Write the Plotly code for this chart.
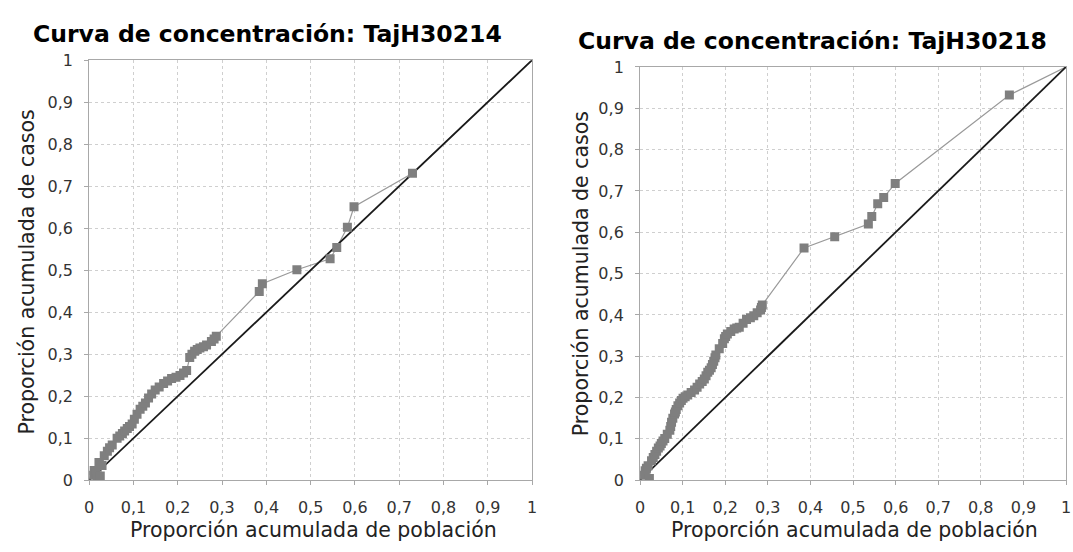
import plotly.graph_objects as go

# ---- data ----
tick_vals = [0, 0.1, 0.2, 0.3, 0.4, 0.5, 0.6, 0.7, 0.8, 0.9, 1]
tick_text = ["0", "0,1", "0,2", "0,3", "0,4", "0,5", "0,6", "0,7", "0,8", "0,9", "1"]

diag_x = [0, 1]
diag_y = [0, 1]

# TajH30214
left_x = [0.004, 0.011, 0.015, 0.018, 0.022, 0.025, 0.029, 0.034, 0.041, 0.046, 0.052,
          0.063, 0.069, 0.075, 0.080, 0.086, 0.091, 0.097, 0.102, 0.108, 0.115, 0.121,
          0.127, 0.134, 0.141, 0.149, 0.158, 0.168, 0.177, 0.186, 0.196, 0.205, 0.213,
          0.220, 0.227, 0.232, 0.238, 0.244, 0.250, 0.258, 0.265, 0.276, 0.282, 0.287,
          0.384, 0.391, 0.469, 0.544, 0.559, 0.583, 0.598, 0.730]
left_y = [0.012, 0.023, 0.018, 0.004, 0.042, 0.010, 0.035, 0.058, 0.069, 0.077, 0.084,
          0.100, 0.105, 0.111, 0.117, 0.123, 0.128, 0.134, 0.145, 0.157, 0.169, 0.176,
          0.184, 0.196, 0.205, 0.215, 0.222, 0.230, 0.236, 0.242, 0.245, 0.249, 0.255,
          0.261, 0.292, 0.300, 0.307, 0.311, 0.315, 0.318, 0.322, 0.330, 0.336, 0.343,
          0.449, 0.468, 0.501, 0.527, 0.554, 0.602, 0.651, 0.731]

# TajH30218
right_x = [0.008, 0.012, 0.015, 0.019, 0.022, 0.027, 0.031, 0.035, 0.039, 0.043, 0.047,
           0.050, 0.054, 0.058, 0.064, 0.070, 0.072, 0.074, 0.077, 0.081, 0.083, 0.085,
           0.089, 0.093, 0.097, 0.101, 0.106, 0.112, 0.120, 0.128, 0.134, 0.140, 0.146,
           0.151, 0.155, 0.159, 0.163, 0.167, 0.170, 0.173, 0.176, 0.178, 0.186, 0.194,
           0.198, 0.201, 0.205, 0.213, 0.221, 0.227, 0.233, 0.242, 0.250, 0.259, 0.267,
           0.275, 0.283, 0.285, 0.287, 0.385, 0.457, 0.536, 0.544, 0.558, 0.572, 0.599,
           0.867]
right_y = [0.012, 0.023, 0.029, 0.035, 0.004, 0.047, 0.055, 0.062, 0.070, 0.078, 0.083,
           0.089, 0.095, 0.101, 0.111, 0.121, 0.130, 0.140, 0.150, 0.160, 0.165, 0.171,
           0.180, 0.187, 0.193, 0.198, 0.202, 0.206, 0.212, 0.218, 0.225, 0.233, 0.239,
           0.245, 0.253, 0.261, 0.266, 0.272, 0.280, 0.288, 0.296, 0.303, 0.318, 0.331,
           0.342, 0.348, 0.354, 0.360, 0.366, 0.368, 0.370, 0.380, 0.389, 0.393, 0.398,
           0.405, 0.412, 0.418, 0.424, 0.562, 0.589, 0.620, 0.638, 0.669, 0.684, 0.718,
           0.932]

titles = ["Curva de concentración: TajH30214", "Curva de concentración: TajH30218"]
x_title = "Proporción acumulada de población"
y_title = "Proporción acumulada de casos"

# ---- figure ----
W, H = 1073, 552
fig = go.Figure()

MARK = "#7f7f7f"
LINE = "#9a9a9a"

def add_panel(xs, ys, xa, ya):
    fig.add_trace(go.Scatter(x=[0] + xs + [1], y=[0] + ys + [1], mode="lines",
                             line=dict(color=LINE, width=1.2), xaxis=xa, yaxis=ya,
                             hoverinfo="skip", showlegend=False))
    fig.add_trace(go.Scatter(x=diag_x, y=diag_y, mode="lines",
                             line=dict(color="#1a1a1a", width=1.8), xaxis=xa, yaxis=ya,
                             showlegend=False))
    fig.add_trace(go.Scatter(x=xs, y=ys, mode="markers",
                             marker=dict(symbol="square", size=9, color=MARK,
                                         line=dict(width=0)),
                             xaxis=xa, yaxis=ya, showlegend=False))

add_panel(left_x, left_y, "x", "y")
add_panel(right_x, right_y, "x2", "y2")

def px_x(p):
    return p / W

def px_y(p):
    return 1 - p / H

axis_common = dict(range=[0, 1], tickvals=tick_vals, ticktext=tick_text,
                   showline=True, mirror=True, linecolor="#a8a8a8", linewidth=1,
                   ticks="outside", ticklen=4, tickcolor="#a8a8a8",
                   showgrid=True, gridcolor="#cfcfcf", griddash="3px,3px", gridwidth=1,
                   zeroline=False, fixedrange=True,
                   tickfont=dict(family="DejaVu Sans", size=16, color="#333333"))

fig.update_layout(
    width=W, height=H, margin=dict(l=0, r=0, t=0, b=0),
    paper_bgcolor="white", plot_bgcolor="white",
    xaxis=dict(domain=[px_x(85), px_x(532)], anchor="y", ticklabelstandoff=9, **axis_common),
    yaxis=dict(domain=[px_y(488), px_y(53)], anchor="x", ticklabelstandoff=8, **axis_common),
    xaxis2=dict(domain=[px_x(641), px_x(1071)], anchor="y2", ticklabelstandoff=9, **axis_common),
    yaxis2=dict(domain=[px_y(488), px_y(60)], anchor="x2", ticklabelstandoff=8, **axis_common),
)

tfont = dict(family="DejaVu Sans", size=23.5, color="#000000")
afont = dict(family="DejaVu Sans", size=20.5, color="#222222")
ann = [
    dict(text="<b>" + titles[0] + "</b>", x=px_x(265), y=px_y(26), font=tfont),
    dict(text="<b>" + titles[1] + "</b>", x=px_x(815), y=px_y(33), font=tfont),
    dict(text=x_title, x=px_x(311), y=px_y(540), font=afont),
    dict(text=x_title, x=px_x(857), y=px_y(540), font=afont),
    dict(text=y_title, x=px_x(22), y=px_y(272), font=afont, textangle=-90),
    dict(text=y_title, x=px_x(581), y=px_y(274), font=afont, textangle=-90),
]
for a in ann:
    fig.add_annotation(xref="paper", yref="paper", showarrow=False,
                       xanchor="center", yanchor="middle", **a)

fig.write_html("out.html", config={"displayModeBar": False},
               post_script="document.body.style.margin='0px';document.body.style.overflow='hidden';")
